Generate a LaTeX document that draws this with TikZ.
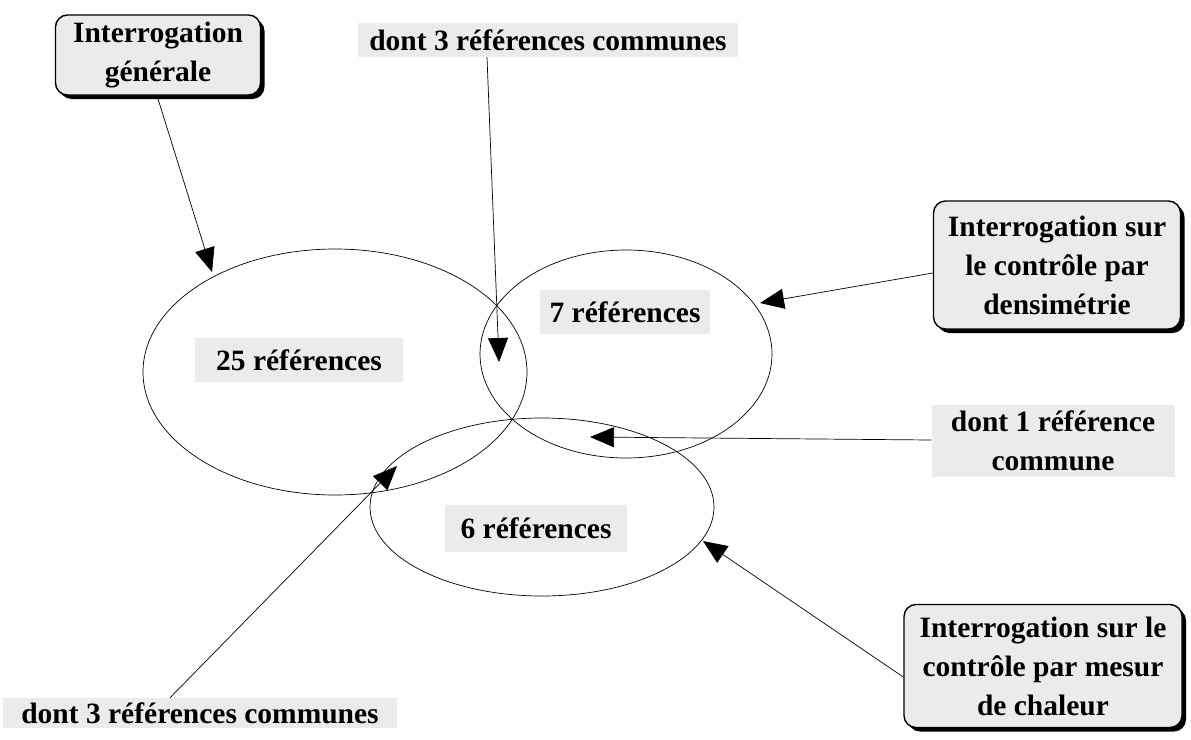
\documentclass[tikz,border=0pt]{standalone}
\usepackage{fontspec}
\setmainfont{Liberation Serif}
\usetikzlibrary{shapes.geometric,shadows,arrows.meta}
\begin{document}
\begin{tikzpicture}[x=1pt,y=-1pt,
  lbl/.style={fill=black!8, inner sep=0pt, font=\fontsize{29.5}{39}\selectfont\bfseries, align=center},
  qbox/.style={lbl, draw, line width=1.4pt, rounded corners=12pt,
    drop shadow={shadow xshift=4pt, shadow yshift=-4pt, fill=black, opacity=1}},
  circ/.style={draw, ellipse, line width=0.7pt, inner sep=0pt},
  arr/.style={-{Triangle[length=24pt,width=20pt]}, line width=0.7pt}]
\useasboundingbox (0,0) rectangle (1191,739);
% ellipses
\node[circ, minimum width=384, minimum height=246] (e1) at (335,372) {};
\node[circ, minimum width=292, minimum height=208] (e2) at (626,354) {};
\node[circ, minimum width=344, minimum height=178] (e3) at (542,507) {};
% labels
\node[qbox, minimum width=205, minimum height=80] (gen) at (158,55) {Interrogation\\générale};
\node[lbl, minimum width=380, minimum height=34] (c3t) at (548,40) {dont 3 références communes};
\node[qbox, minimum width=247, minimum height=128] (dens) at (1057,265) {Interrogation sur\\le contrôle par\\densimétrie};
\node[lbl, minimum width=170, minimum height=44] (l7) at (625,312) {7 références};
\node[lbl, minimum width=208, minimum height=44] (l25) at (299,360) {25 références};
\node[lbl, minimum width=243, minimum height=72] (c1) at (1053,441) {dont 1 référence\\commune};
\node[lbl, minimum width=182, minimum height=47] (l6) at (536,528) {6 références};
\node[qbox, minimum width=278, minimum height=123] (chal) at (1043,666) {Interrogation sur le\\contrôle par mesur\\de chaleur};
\node[lbl, minimum width=394, minimum height=30] (c3b) at (200,713) {dont 3 références communes};
% arrow targets
\coordinate (tg) at (212,272);
\coordinate (tc) at (499,362);
\coordinate (td) at (760,303);
\coordinate (t1) at (590,437);
\coordinate (tm) at (703,541);
\coordinate (tb) at (397,466);
% arrows
\draw[arr] ([xshift=-1pt]gen.south) -- (tg);
\draw[arr] ([xshift=-61pt]c3t.south) -- (tc);
\draw[arr] ([yshift=-8pt]dens.west) -- (td);
\draw[arr] ([yshift=1pt]c1.west) -- (t1);
\draw[arr] ([yshift=-11pt]chal.west) -- (tm);
\draw[arr] ([xshift=-30pt]c3b.north) -- (tb);
\end{tikzpicture}
\end{document}
